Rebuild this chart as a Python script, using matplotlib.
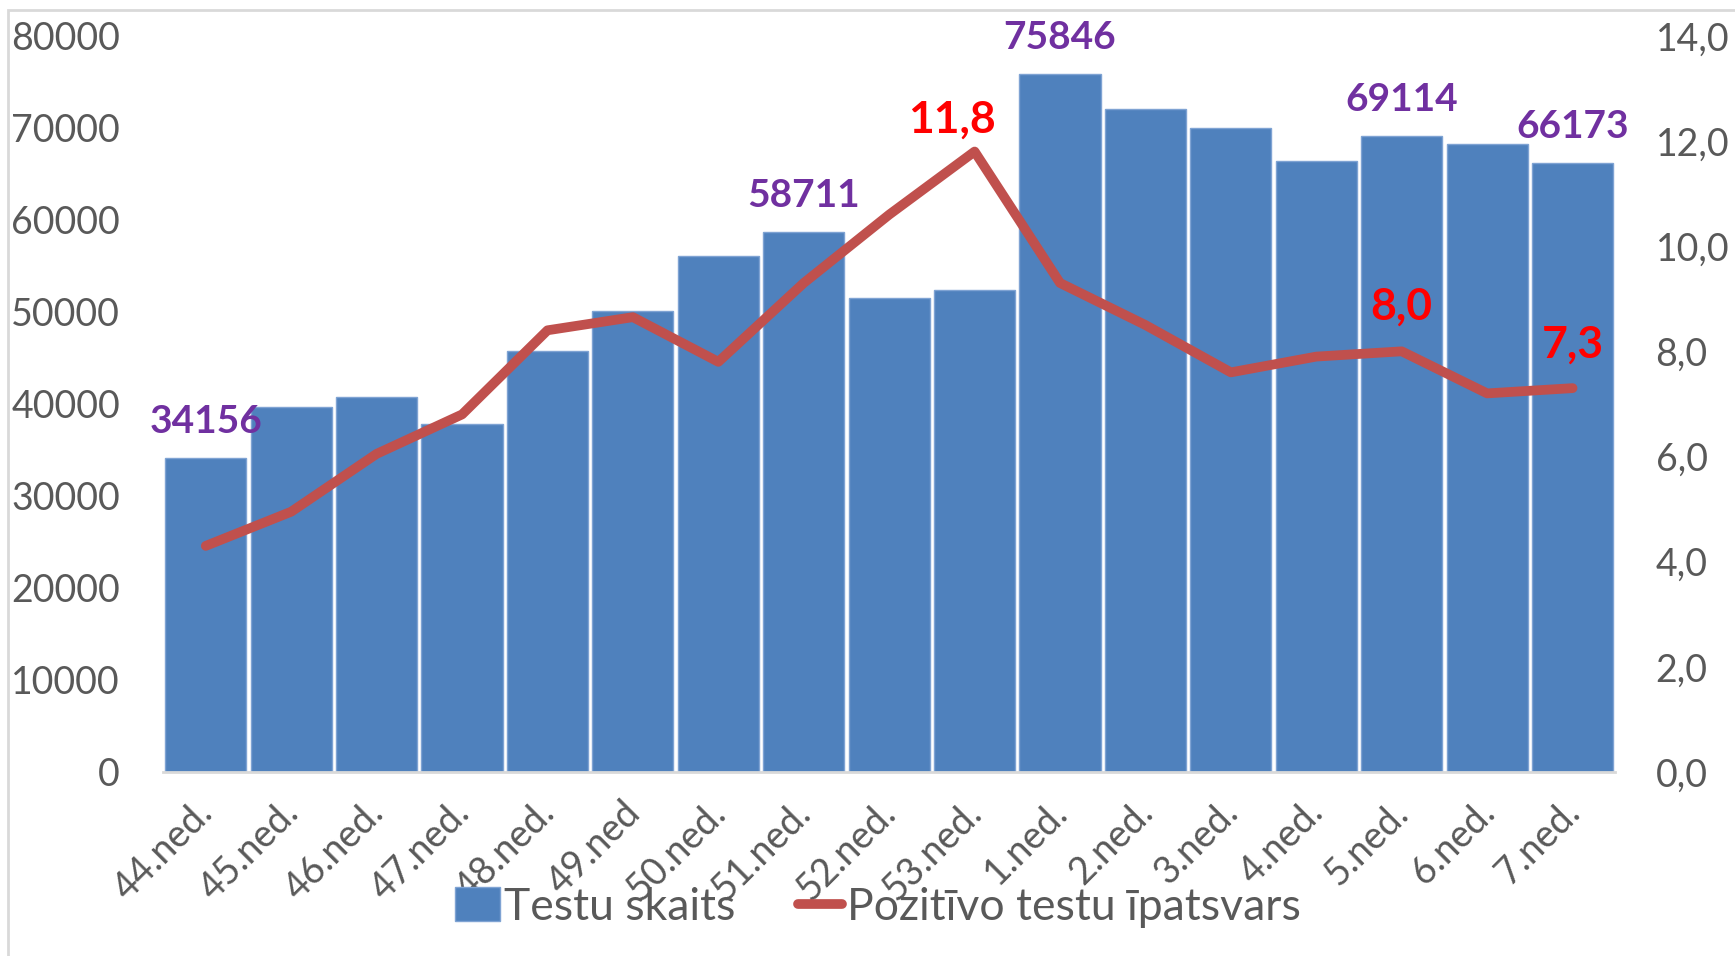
import numpy as np
import matplotlib.pyplot as plt
import matplotlib.transforms as mtransforms
from matplotlib.patches import Rectangle

plt.rcParams['font.family'] = ['Lato', 'DejaVu Sans']

weeks = ['44.ned.', '45.ned.', '46.ned.', '47.ned.', '48.ned.', '49.ned', '50.ned.',
         '51.ned.', '52.ned.', '53.ned.', '1.ned.', '2.ned.', '3.ned.', '4.ned.',
         '5.ned.', '6.ned.', '7.ned.']
tests = [34156, 39700, 40800, 37800, 45700, 50100, 56100, 58711, 51500, 52400,
         75846, 72000, 70000, 66400, 69114, 68300, 66173]
positive = [4.3, 4.95, 6.05, 6.8, 8.4, 8.65, 7.8, 9.3, 10.6, 11.8,
            9.3, 8.5, 7.6, 7.9, 8.0, 7.2, 7.3]

# which points get a data label
bar_labels = [0, 7, 10, 14, 16]
line_labels = {9: (-16, 23), 14: (0, 32), 16: (0, 31)}

blue = '#4F81BD'
red = '#C0504D'
purple = '#7030A0'
grey = '#595959'

fig = plt.figure(figsize=(17.35, 9.56), dpi=100)
ax = fig.add_axes([0.094, 0.1925, 0.837, 0.770])
ax2 = ax.twinx()

x = np.arange(len(weeks))
ax.bar(x, tests, width=0.95, color=blue, edgecolor='#7FA3D3', linewidth=1,
       label='Testu skaits', zorder=2)
ax2.plot(x, positive, color=red, linewidth=7, solid_capstyle='round',
         solid_joinstyle='round', label='Pozitīvo testu īpatsvars', zorder=3)

ax.set_xlim(-0.5, len(weeks) - 0.5)
ax.set_ylim(0, 80000)
ax.set_yticks(range(0, 80001, 10000))
ax2.set_ylim(0, 14)
ax2.set_yticks(range(0, 15, 2))
ax2.set_yticklabels([f'{v:.1f}'.replace('.', ',') for v in range(0, 15, 2)])

ax.set_xticks(x)
ax.set_xticklabels(weeks, rotation=45, ha='right', rotation_mode='anchor')

for a in (ax, ax2):
    for s in a.spines.values():
        s.set_visible(False)
    a.tick_params(length=0, colors=grey, labelsize=27)
ax.spines['bottom'].set_visible(True)
ax.spines['bottom'].set_color('#D9D9D9')
ax.spines['bottom'].set_linewidth(2)
ax.tick_params(axis='y', pad=31)
ax2.tick_params(axis='y', pad=29)
ax.tick_params(axis='x', pad=16, labelsize=27)

# nudge the slanted week labels a bit to the left, like in the original
shift = mtransforms.ScaledTranslation(-8 / 72, 0, fig.dpi_scale_trans)
for lbl in ax.get_xticklabels():
    lbl.set_transform(lbl.get_transform() + shift)

for i in bar_labels:
    ax.annotate(str(tests[i]), (x[i], tests[i]), xytext=(0, 26), textcoords='offset points',
                ha='center', va='center', color=purple, fontsize=28, fontweight='bold')
for i, off in line_labels.items():
    ax2.annotate(f'{positive[i]:.1f}'.replace('.', ','), (x[i], positive[i]), xytext=off,
                 textcoords='offset points', ha='center', va='center', color='#FF0000',
                 fontsize=32, fontweight='bold')

h1, l1 = ax.get_legend_handles_labels()
h2, l2 = ax2.get_legend_handles_labels()
fig.legend(h1 + h2, l1 + l2, loc='center', bbox_to_anchor=(0.506, 0.051), ncol=2,
           frameon=False, fontsize=32, labelcolor=grey, handlelength=1.0,
           handleheight=0.8, handletextpad=0.1, columnspacing=1.4)

fig.patches.append(Rectangle((0.0046, -0.1), 1.2, 1.0895, transform=fig.transFigure,
                             fill=False, edgecolor='#D9D9D9', linewidth=2))

fig.savefig('out.png', dpi=100)
